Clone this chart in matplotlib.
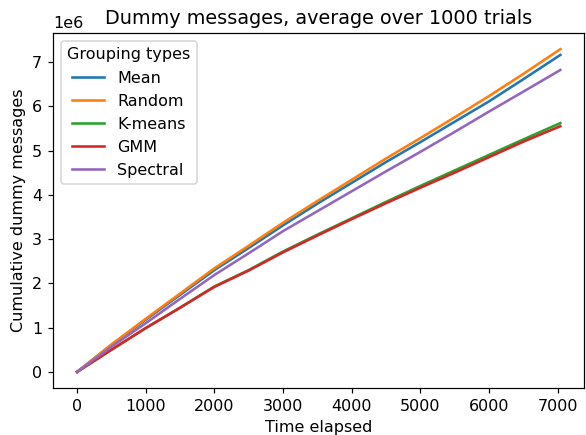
import matplotlib
matplotlib.use("Agg")
import matplotlib.pyplot as plt

# cumulative dummy messages (x1e6) sampled along elapsed time
time = [0, 500, 1000, 1500, 2000, 2500, 3000, 3500, 4000, 4500, 5000, 5500, 6000, 6500, 7040]
mean = [0, 0.61, 1.18, 1.74, 2.30, 2.80, 3.31, 3.80, 4.27, 4.74, 5.19, 5.65, 6.11, 6.61, 7.16]
random_ = [0, 0.62, 1.20, 1.77, 2.34, 2.85, 3.37, 3.86, 4.34, 4.82, 5.28, 5.75, 6.23, 6.73, 7.29]
kmeans = [0, 0.50, 0.99, 1.45, 1.93, 2.30, 2.72, 3.10, 3.47, 3.84, 4.20, 4.55, 4.90, 5.25, 5.62]
gmm = [0, 0.50, 0.99, 1.45, 1.92, 2.29, 2.70, 3.08, 3.45, 3.81, 4.16, 4.50, 4.85, 5.20, 5.55]
spectral = [0, 0.57, 1.10, 1.65, 2.19, 2.68, 3.18, 3.63, 4.08, 4.53, 4.97, 5.42, 5.88, 6.33, 6.82]

series = [("Mean", mean), ("Random", random_), ("K-means", kmeans),
          ("GMM", gmm), ("Spectral", spectral)]

plt.rcParams["font.size"] = 10.5
plt.rcParams["lines.linewidth"] = 1.7

dpi = 110
fig = plt.figure(figsize=(586 / dpi, 435 / dpi), dpi=dpi)
ax = fig.add_axes([0.0904, 0.108, 0.907, 0.816])

for name, vals in series:
    ax.plot(time, [v * 1e6 for v in vals], label=name)

ax.set_title("Dummy messages, average over 1000 trials")
ax.set_xlabel("Time elapsed")
ax.set_ylabel("Cumulative dummy messages")
ax.legend(title="Grouping types", loc="upper left")

fig.savefig("out.png", dpi=dpi)
